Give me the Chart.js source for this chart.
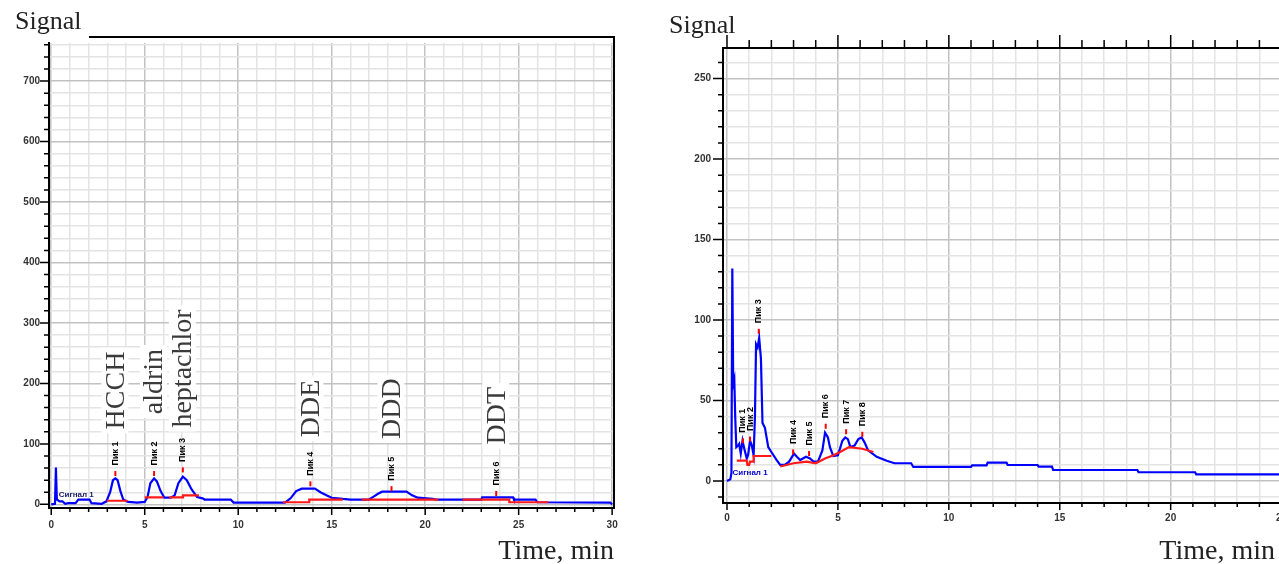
<!DOCTYPE html>
<html>
<head>
<meta charset="utf-8">
<script src="https://cdn.jsdelivr.net/npm/chart.js@4.4.1/dist/chart.umd.min.js"></script>
<style>
  html, body { margin: 0; padding: 0; width: 1279px; height: 564px; overflow: hidden; background: #fff; }
  canvas { position: absolute; top: 0; }
  #left { left: 0; }
  #right { left: 640px; }
  .lbl { position: absolute; font-family: "Liberation Serif", serif; color: #222; white-space: nowrap; }
  .sig { font-size: 26px; line-height: 26px; }
  .time { font-size: 28px; line-height: 28px; }
</style>
</head>
<body>
<canvas id="left" width="640" height="564"></canvas>
<canvas id="right" width="700" height="564"></canvas>
<div class="lbl sig" style="left:15px; top:8px;">Signal</div>
<div class="lbl sig" style="left:669px; top:12px;">Signal</div>
<div class="lbl time" style="right:665px; top:536px;">Time, min</div>
<div class="lbl time" style="right:4px; top:536px;">Time, min</div>
<script>
// ---- left chromatogram (pesticide standard) ----
const leftTime = [0, 0.2, 0.25, 0.3, 0.45, 0.6, 0.75, 0.9, 1.3, 1.45, 2.05, 2.15, 2.7, 2.95, 3.15, 3.3, 3.43, 3.55, 3.7, 3.85,
  4.1, 4.6, 5.0, 5.15, 5.3, 5.5, 5.65, 5.85, 6.05, 6.4, 6.6, 6.8, 7.04, 7.25, 7.5, 7.8, 8.1, 8.2, 9.6, 9.75,
  12.5, 12.8, 13.1, 13.4, 14.1, 14.4, 14.8, 15.0, 15.6, 16.0, 17.0, 17.2, 17.5, 17.7, 19.0, 19.3, 19.6, 20.4, 20.6,
  23.0, 23.05, 24.7, 24.75, 25.9, 26.0, 29.9, 30.0];
const leftSignal = [0, 1, 61, 8, 5, 5, 1, 2, 2, 8, 8, 2, 1, 5, 20, 40, 43, 40, 22, 8,
  4, 3, 4, 12, 35, 43, 38, 22, 11, 11, 15, 35, 46, 40, 25, 12, 10, 8, 8, 3,
  3, 10, 22, 26, 26, 20, 14, 11, 9, 8, 8, 12, 18, 21, 21, 15, 11, 9, 8,
  8, 11.5, 11.5, 8, 8, 3.5, 3, 0];
// baseline segments (null = break)
const leftBaseTime = [2.98, 4.08, null, 5.0, 6.0, null, 6.3, 7.05, 7.05, 7.9, null, 12.4, 13.8, 13.8, 15.6, null,
  16.6, 20.7, null, 22.0, 24.5, 24.5, 26.6];
const leftBaseSignal = [6, 6, null, 11.5, 11.5, null, 11.5, 11.5, 15, 15, null, 3.5, 3.5, 8, 8, null,
  8, 8, null, 8, 8, 3.5, 3.5];
const leftPeakTime = [3.43, 5.5, 7.04, 13.86, 18.2, 23.8];
const leftPeakMark = [51, 51, 57, 34, 26, 18];
const leftPeakNames = ['Пик 1', 'Пик 2', 'Пик 3', 'Пик 4', 'Пик 5', 'Пик 6'];
const leftCompounds = ['HCCH', 'aldrin', 'heptachlor', 'DDE', 'DDD', 'DDT'];
const leftXTicks = [0, 5, 10, 15, 20, 25, 30];
const leftYTicks = [0, 100, 200, 300, 400, 500, 600, 700];

// ---- right chromatogram (sample) ----
const rightTime = [0, 0.15, 0.2, 0.24, 0.28, 0.33, 0.37, 0.42, 0.5, 0.55, 0.62, 0.7, 0.78, 0.89, 0.95, 1.04, 1.12, 1.2,
  1.26, 1.31, 1.38, 1.45, 1.53, 1.6, 1.71, 1.86, 2.0, 2.24, 2.4, 2.6, 2.8, 3.02, 3.15, 3.3, 3.56, 3.74, 3.9, 4.1,
  4.3, 4.42, 4.55, 4.64, 4.79, 5.0, 5.2, 5.33, 5.45, 5.56, 5.75, 5.92, 6.07, 6.2, 6.36, 6.75, 7.2, 7.55, 8.3, 8.4,
  11.0, 11.05, 11.7, 11.75, 12.6, 12.65, 14.0, 14.05, 14.65, 14.7, 18.5, 18.55, 21.1, 21.15, 26.3];
const rightSignal = [0, 1, 5, 132, 60, 63, 40, 21, 22, 23, 17, 25, 20, 14, 16, 25, 22, 16,
  40, 85, 83, 89, 76, 36, 33, 21, 18, 13, 10, 10, 12, 17, 15, 13, 15, 14, 12, 12,
  19, 30, 27, 21, 15.5, 16, 25, 27, 26, 21, 22, 26, 27, 24, 19, 15, 12.5, 11, 11, 8.7,
  8.7, 9.7, 9.7, 11.4, 11.4, 9.9, 9.9, 8.9, 8.9, 6.8, 6.8, 5.4, 5.4, 4.1, 4.1];
const rightBaseTime = [0.44, 0.89, 0.92, 1.0, 1.04, 1.2, 1.2, 2.0, null,
  2.4, 3.0, 3.6, 4.0, 4.42, 4.8, 5.1, 5.5, 6.1, 6.6];
const rightBaseSignal = [12.6, 12.6, 10, 10, 12, 12, 15.5, 15.5, null,
  9, 11, 12, 11, 14, 16, 18, 21, 20, 18];
const rightPeakTime = [0.72, 1.04, 1.43, 2.98, 3.7, 4.45, 5.37, 6.1];
const rightPeakMark = [25, 26, 93, 18, 17, 34, 30.6, 29];
const rightPeakNames = ['Пик 1', 'Пик 2', 'Пик 3', 'Пик 4', 'Пик 5', 'Пик 6', 'Пик 7', 'Пик 8'];
const rightXTicks = [0, 5, 10, 15, 20, 25];
const rightYTicks = [0, 50, 100, 150, 200, 250];

Chart.defaults.font.family = '"Liberation Sans", Arial, sans-serif';
Chart.defaults.animation = false;

const pts = (xs, ys) => xs.map((x, i) => ({ x: x, y: ys[i] }));
const range = (a, b, s) => { const r = []; for (let v = a; v <= b + 1e-9; v += s) r.push({ value: +v.toFixed(6) }); return r; };

// draws axis ticks, frame, peak labels and compound names
const chromoPlugin = {
  id: 'chromo',
  afterDatasetsDraw(chart, args, o) {
    const { ctx, chartArea: a, scales: { x, y } } = chart;
    ctx.save();
    ctx.strokeStyle = '#000';
    ctx.lineWidth = 1.5;
    ctx.beginPath();
    y.ticks.forEach(t => {
      const p = y.getPixelForValue(t.value);
      const len = o.yMajor.includes(t.value) ? o.yLen[1] : o.yLen[0];
      ctx.moveTo(a.left - len, p); ctx.lineTo(a.left, p);
    });
    x.ticks.forEach(t => {
      const p = x.getPixelForValue(t.value);
      const major = o.xMajor.includes(t.value);
      const len = major ? 7 : 4;
      ctx.moveTo(p, a.bottom); ctx.lineTo(p, a.bottom + len);
      if (o.topTicks) {
        const tl = major ? 13 : 8;
        ctx.moveTo(p, o.topLine); ctx.lineTo(p, o.topLine - tl);
      }
    });
    ctx.stroke();

    // frame
    ctx.lineWidth = 2;
    ctx.beginPath();
    ctx.moveTo(o.topFrom, o.topLine); ctx.lineTo(o.rightEdge, o.topLine);
    if (o.rightFrame) { ctx.moveTo(a.right, o.topLine); ctx.lineTo(a.right, a.bottom + 1); }
    ctx.stroke();

    // peak labels above the apex markers
    ctx.fillStyle = '#000';
    ctx.font = 'bold 9px "Liberation Sans"';
    ctx.textAlign = 'left';
    ctx.textBaseline = 'middle';
    o.peakTime.forEach((t, i) => {
      ctx.save();
      ctx.translate(x.getPixelForValue(t), y.getPixelForValue(o.peakMark[i]) - 8);
      ctx.rotate(-Math.PI / 2);
      ctx.fillText(o.peakNames[i], 0, 0);
      ctx.restore();
    });

    // signal name near the start
    ctx.fillStyle = o.sigColor;
    ctx.font = 'bold 8px "Liberation Sans"';
    ctx.textBaseline = 'alphabetic';
    ctx.fillText('Сигнал 1', x.getPixelForValue(o.sigAt[0]), y.getPixelForValue(o.sigAt[1]));

    // compound names, rotated, on white boxes
    if (o.compounds) {
      ctx.font = '28px "Liberation Serif"';
      ctx.textBaseline = 'middle';
      o.compounds.forEach((name, i) => {
        const w = ctx.measureText(name).width;
        ctx.save();
        ctx.translate(x.getPixelForValue(o.peakTime[i]), y.getPixelForValue(o.compoundLift[i]));
        ctx.rotate(-Math.PI / 2);
        ctx.fillStyle = '#fff';
        ctx.fillRect(-4, -14, w + 8, 27);
        ctx.fillStyle = '#3a3a3a';
        ctx.fillText(name, 0, 1);
        ctx.restore();
      });
    }
    ctx.restore();
  }
};

function makeChart(id, cfg) {
  const gridColor = (majors) => (c) => majors.includes(c.tick.value) ? '#c2c2c2' : '#e4e4e4';
  return new Chart(document.getElementById(id), {
    type: 'line',
    data: {
      datasets: [
        { data: pts(cfg.peakTime, cfg.peakMark), showLine: false, pointStyle: 'line', rotation: 90,
          pointRadius: 2.5, borderColor: '#ff0000', borderWidth: 2, order: 0 },
        { data: pts(cfg.baseTime, cfg.baseSignal), borderColor: '#ff1a1a', borderWidth: 2.2,
          pointRadius: 0, spanGaps: false, order: 1 },
        { data: pts(cfg.time, cfg.signal), borderColor: '#0000ff', borderWidth: 2.2,
          pointRadius: 0, tension: 0, order: 2 }
      ]
    },
    options: {
      responsive: false,
      layout: { padding: cfg.padding },
      plugins: {
        legend: { display: false },
        tooltip: { enabled: false },
        chromo: {
          yMajor: cfg.yTicks, xMajor: cfg.xTicks, yLen: cfg.yLen,
          topLine: cfg.topLine, topFrom: cfg.topFrom, rightEdge: cfg.rightEdge,
          rightFrame: cfg.rightFrame, topTicks: cfg.topTicks,
          peakTime: cfg.peakTime, peakMark: cfg.peakMark, peakNames: cfg.peakNames,
          compounds: cfg.compounds, compoundLift: cfg.compoundLift,
          sigAt: cfg.sigAt, sigColor: cfg.sigColor
        }
      },
      scales: {
        x: {
          type: 'linear', min: cfg.xMin, max: cfg.xMax,
          afterBuildTicks: s => { s.ticks = range(0, cfg.xLast, 1); },
          afterFit: s => { s.height = cfg.xHeight; },
          grid: { color: gridColor(cfg.xTicks), lineWidth: 1.5, drawTicks: false },
          border: { color: '#000', width: 2 },
          ticks: { autoSkip: false, maxRotation: 0, padding: cfg.xPad, color: '#333',
            font: { size: 10, weight: 'bold' },
            callback: v => cfg.xTicks.includes(v) ? String(v) : '' }
        },
        y: {
          type: 'linear', min: cfg.yMin, max: cfg.yMax,
          afterBuildTicks: s => { s.ticks = range(cfg.yFirst, cfg.yLast, cfg.yStep); },
          afterFit: s => { s.width = cfg.yWidth; },
          grid: { color: gridColor(cfg.yTicks), lineWidth: 1.5, drawTicks: false },
          border: { color: '#000', width: 2 },
          ticks: { autoSkip: false, padding: cfg.yPad, color: '#333',
            font: { size: 10, weight: 'bold' },
            callback: v => cfg.yTicks.includes(v) ? String(v) : '' }
        }
      }
    },
    plugins: [chromoPlugin]
  });
}

makeChart('left', {
  time: leftTime, signal: leftSignal, baseTime: leftBaseTime, baseSignal: leftBaseSignal,
  peakTime: leftPeakTime, peakMark: leftPeakMark, peakNames: leftPeakNames,
  compounds: leftCompounds, compoundLift: [124, 149, 127, 111, 108, 99],
  xTicks: leftXTicks, yTicks: leftYTicks,
  xMin: -0.12, xMax: 30.1, xLast: 30, yMin: -6, yMax: 763, yFirst: 0, yLast: 760, yStep: 20,
  padding: { top: 43, right: 26, left: 0, bottom: 0 }, xHeight: 56, yWidth: 49, xPad: 11, yPad: 9,
  yLen: [5, 9], topLine: 37, topFrom: 89, rightEdge: 615, rightFrame: true, topTicks: false,
  sigAt: [0.4, 12], sigColor: '#1a1a66'
});

makeChart('right', {
  time: rightTime, signal: rightSignal, baseTime: rightBaseTime, baseSignal: rightBaseSignal,
  peakTime: rightPeakTime, peakMark: rightPeakMark, peakNames: rightPeakNames,
  compounds: null, compoundLift: null,
  xTicks: rightXTicks, yTicks: rightYTicks,
  xMin: -0.18, xMax: 26.28, xLast: 26, yMin: -13.7, yMax: 269, yFirst: -10, yLast: 260, yStep: 10,
  padding: { top: 48, right: 30, left: 0, bottom: 0 }, xHeight: 61, yWidth: 83, xPad: 9, yPad: 12,
  yLen: [5, 10], topLine: 48, topFrom: 83, rightEdge: 700, rightFrame: false, topTicks: true,
  sigAt: [0.25, 4], sigColor: '#0000cc'
});
</script>
</body>
</html>
